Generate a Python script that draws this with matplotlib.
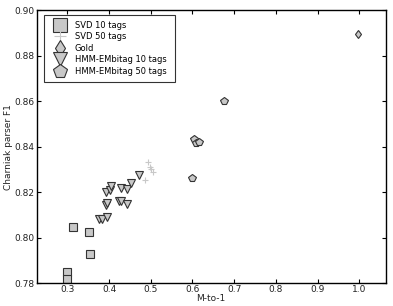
import matplotlib
matplotlib.use('Agg')
import matplotlib.pyplot as plt

# SVD 10 tags
svd10_x = [0.300, 0.300, 0.3135, 0.351, 0.354]
svd10_y = [0.7847, 0.7820, 0.8045, 0.8025, 0.7929]
# SVD 50 tags
svd50_x = [0.4934, 0.499, 0.5014, 0.505, 0.4854]
svd50_y = [0.8330, 0.8311, 0.8301, 0.8290, 0.8253]
# Gold
gold_x = [0.996]
gold_y = [0.8896]
# HMM-EMbitag 10 tags
hmm10_x = [0.376, 0.384, 0.395, 0.393, 0.395, 0.423, 0.4295, 0.444,
           0.392, 0.401, 0.4055, 0.4295, 0.444, 0.4535, 0.4717]
hmm10_y = [0.8080, 0.8080, 0.8089, 0.8143, 0.8153, 0.8160, 0.8162, 0.8146,
           0.8201, 0.8209, 0.8226, 0.8219, 0.8212, 0.8238, 0.8275]
# HMM-EMbitag 50 tags
hmm50_x = [0.6036, 0.6094, 0.6156, 0.5989, 0.6755]
hmm50_y = [0.8434, 0.8417, 0.8418, 0.8263, 0.8601]

plt.rcParams.update({'font.size': 6.5, 'xtick.direction': 'in', 'ytick.direction': 'in',
                     'xtick.top': True, 'ytick.right': True})

fig = plt.figure(figsize=(3.93, 3.06), dpi=100)
ax = fig.add_axes([0.093, 0.075, 0.889, 0.892])

fc = '#c8c8c8'
ec = '#333333'
ax.plot(svd10_x, svd10_y, 's', ms=5.3, mfc=fc, mec=ec, mew=0.8, label='SVD 10 tags')
ax.plot(svd50_x, svd50_y, '+', ms=5, color='#c8c8c8', mew=0.8, label='SVD 50 tags')
ax.plot(gold_x, gold_y, 'd', ms=4.5, mfc=fc, mec=ec, mew=0.8, label='Gold')
ax.plot(hmm10_x, hmm10_y, 'v', ms=5.5, mfc=fc, mec=ec, mew=0.8, label='HMM-EMbitag 10 tags')
ax.plot(hmm50_x, hmm50_y, 'p', ms=5.5, mfc=fc, mec=ec, mew=0.8, label='HMM-EMbitag 50 tags')

ax.set_xlim(0.226, 1.064)
ax.set_ylim(0.78, 0.90)
ax.set_xticks([0.3, 0.4, 0.5, 0.6, 0.7, 0.8, 0.9, 1.0])
ax.set_yticks([0.78, 0.80, 0.82, 0.84, 0.86, 0.88, 0.90])
ax.set_yticklabels(['%.2f' % v for v in [0.78, 0.80, 0.82, 0.84, 0.86, 0.88, 0.90]])
ax.tick_params(length=3, width=0.8, pad=1.5, labelcolor='#222222')
for s in ax.spines.values():
    s.set_linewidth(1.0)
ax.set_xlabel('M-to-1', labelpad=0, color='#222222')
ax.set_ylabel('Charniak parser F1', labelpad=1, color='#222222')

leg = ax.legend(loc='upper left', bbox_to_anchor=(0.021, 0.5, 0.375, 0.482),
                mode='expand', borderaxespad=0, fontsize=6, markerscale=1.8,
                numpoints=1, handlelength=2.5, labelspacing=0.3, fancybox=False,
                borderpad=0.7, handletextpad=0.5)
leg.get_frame().set_edgecolor('black')
leg.get_frame().set_linewidth(0.8)

fig.savefig('out.png', dpi=100)
